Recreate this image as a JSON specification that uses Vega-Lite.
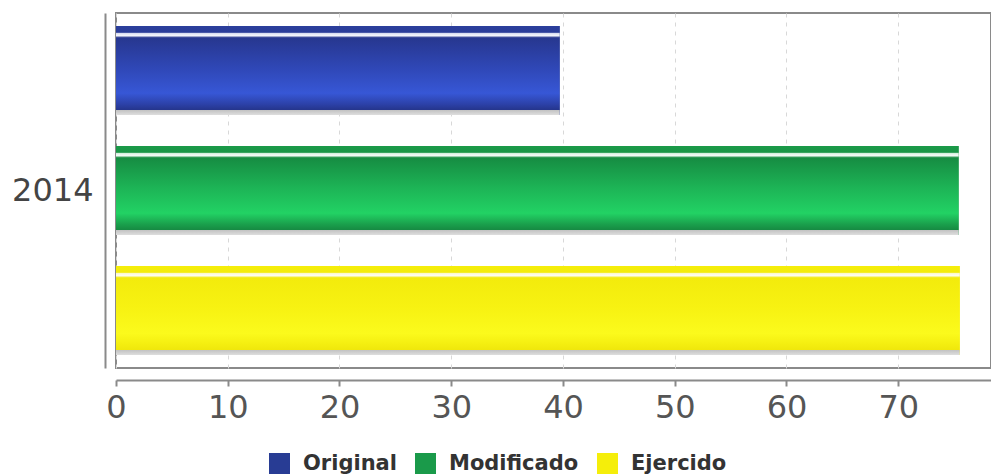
{
  "$schema": "https://vega.github.io/schema/vega-lite/v6.json",
  "autosize": {"type": "none"},
  "width": 875,
  "height": 355,
  "padding": {"left": 116, "top": 13, "right": 0, "bottom": 108},
  "background": "white",
  "config": {
    "view": {"stroke": "#8a8a8a", "strokeWidth": 2},
    "font": "DejaVu Sans"
  },
  "data": {
    "values": [
      {"anio": "2014", "serie": "Original", "valor": 39.7},
      {"anio": "2014", "serie": "Modificado", "valor": 75.4},
      {"anio": "2014", "serie": "Ejercido", "valor": 75.5}
    ]
  },
  "encoding": {
    "y": {
      "field": "anio", "type": "nominal",
      "scale": {"paddingInner": 0, "paddingOuter": 0},
      "axis": {"title": null, "ticks": false, "offset": 11, "domainColor": "#8a8a8a", "domainWidth": 2, "labelFont": "DejaVu Sans", "labelFontSize": 32, "labelColor": "#444444", "labelPadding": 12, "labelFontWeight": "normal"}
    },
    "yOffset": {
      "field": "serie", "type": "nominal",
      "scale": {"domain": ["Original", "Modificado", "Ejercido"], "paddingInner": 0.258, "paddingOuter": 0.108}
    },
    "x": {
      "field": "valor", "type": "quantitative",
      "scale": {"domain": [0, 78.3], "nice": false, "zero": true},
      "axis": {"title": null, "values": [0, 10, 20, 30, 40, 50, 60, 70], "grid": true, "gridDash": [4, 5], "gridColor": "#d8d8d8", "gridWidth": 1, "offset": 12, "domainColor": "#8a8a8a", "domainWidth": 2, "tickColor": "#8a8a8a", "tickSize": 6, "tickWidth": 2, "labelFont": "DejaVu Sans", "labelFontSize": 32, "labelColor": "#555555", "labelPadding": 6, "labelFlush": false}
    }
  },
  "layer": [
    {
      "mark": {"type": "bar"},
      "encoding": {
        "color": {
          "field": "serie", "type": "nominal",
          "scale": {"domain": ["Original", "Modificado", "Ejercido"], "range": ["#283c94", "#1a9a4a", "#f5ee0a"]},
          "legend": {"title": null, "orient": "none", "legendX": 153, "legendY": 440, "direction": "horizontal", "symbolType": "square", "symbolSize": 441, "symbolStrokeWidth": 0, "labelFont": "DejaVu Sans", "labelFontSize": 21, "labelFontWeight": "bold", "labelColor": "#333333", "labelOffset": 13, "columnPadding": 18}
        }
      }
    },
    {
      "transform": [{"filter": "datum.serie === 'Original'"}],
      "mark": {"type": "bar", "color": {"gradient": "linear", "x1": 0, "y1": 0, "x2": 0, "y2": 1, "stops": [
        {"offset": 0, "color": "#2b3f9c"},
        {"offset": 0.071, "color": "#2a3c98"},
        {"offset": 0.085, "color": "#dfe3f3"},
        {"offset": 0.109, "color": "#f5f6fb"},
        {"offset": 0.132, "color": "#27378f"},
        {"offset": 0.47, "color": "#2f47b6"},
        {"offset": 0.755, "color": "#3757d6"},
        {"offset": 0.878, "color": "#2c41a8"},
        {"offset": 0.943, "color": "#25358c"},
        {"offset": 0.944, "color": "#c2c2c2"},
        {"offset": 1, "color": "#dedede"}
      ]}}
    },
    {
      "transform": [{"filter": "datum.serie === 'Modificado'"}],
      "mark": {"type": "bar", "color": {"gradient": "linear", "x1": 0, "y1": 0, "x2": 0, "y2": 1, "stops": [
        {"offset": 0, "color": "#1a9a48"},
        {"offset": 0.071, "color": "#199546"},
        {"offset": 0.085, "color": "#dff3e6"},
        {"offset": 0.109, "color": "#f4fbf6"},
        {"offset": 0.132, "color": "#168c42"},
        {"offset": 0.47, "color": "#1db456"},
        {"offset": 0.755, "color": "#22d264"},
        {"offset": 0.878, "color": "#1aa04c"},
        {"offset": 0.943, "color": "#168a42"},
        {"offset": 0.944, "color": "#c2c2c2"},
        {"offset": 1, "color": "#dedede"}
      ]}}
    },
    {
      "transform": [{"filter": "datum.serie === 'Ejercido'"}],
      "mark": {"type": "bar", "color": {"gradient": "linear", "x1": 0, "y1": 0, "x2": 0, "y2": 1, "stops": [
        {"offset": 0, "color": "#f5ee0a"},
        {"offset": 0.071, "color": "#f4ec0a"},
        {"offset": 0.085, "color": "#fbf9d8"},
        {"offset": 0.109, "color": "#fdfcef"},
        {"offset": 0.132, "color": "#f3eb0c"},
        {"offset": 0.47, "color": "#f7f212"},
        {"offset": 0.755, "color": "#fbfa1c"},
        {"offset": 0.878, "color": "#f4ee10"},
        {"offset": 0.943, "color": "#efe70c"},
        {"offset": 0.944, "color": "#c2c2c2"},
        {"offset": 1, "color": "#dedede"}
      ]}}
    }
  ]
}
